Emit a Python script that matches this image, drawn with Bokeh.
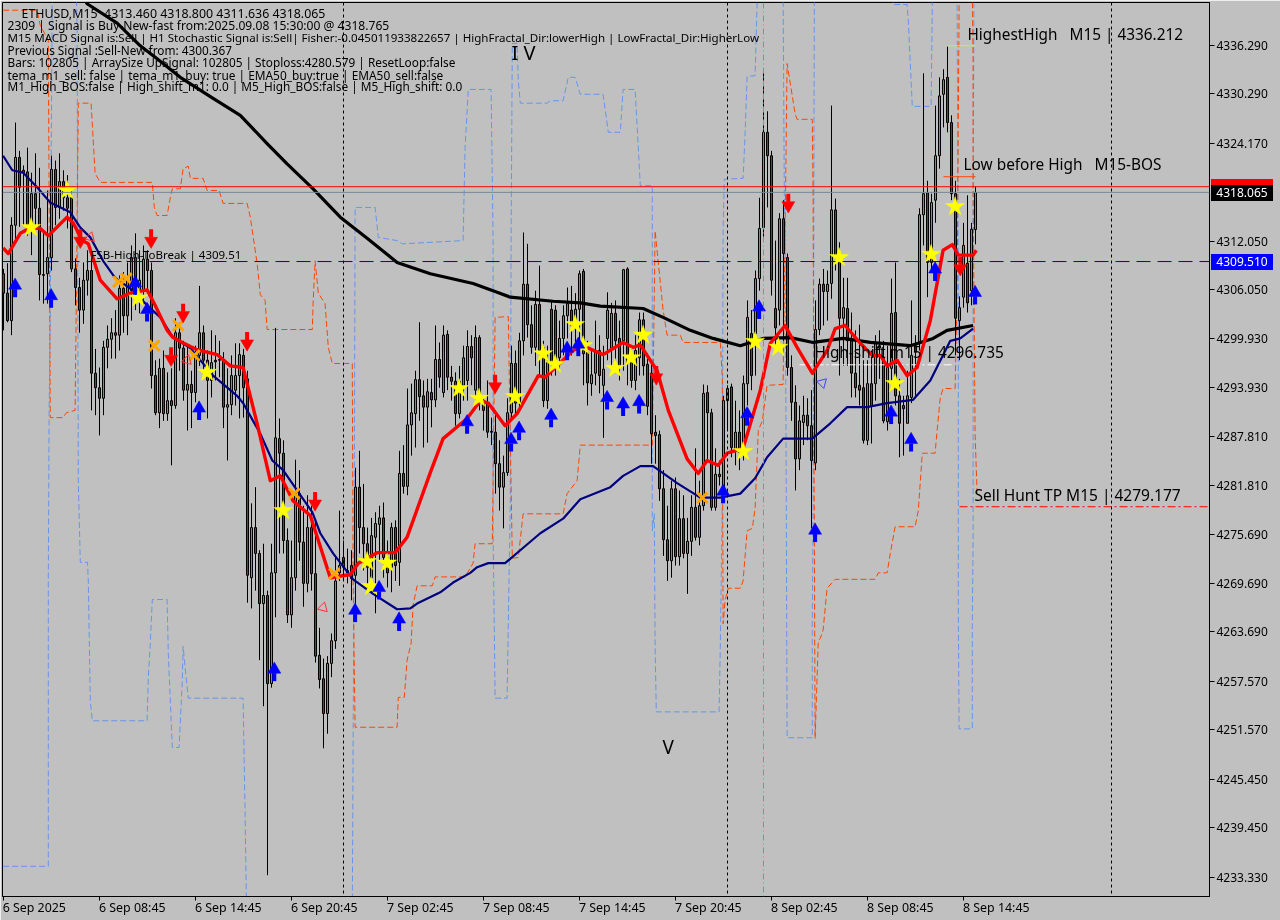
from bokeh.plotting import figure
from bokeh.models import Range1d, LinearAxis, FixedTicker, Span, Label, Div
from bokeh.layouts import column
from bokeh.embed import file_html
from bokeh.resources import INLINE
import math

opens = [4308.0,4305.6,4302.2,4314.0,4322.4,4320.8,4320.6,4313.7,4317.9,4316.1,4307.9,4308.0,4310.0,4320.9,4316.2,4319.4,4317.4,4317.4,4308.6,4306.3,4303.5,4307.2,4308.4,4295.7,4293.9,4292.6,4298.9,4299.9,4300.7,4300.4,
4306.2,4302.8,4305.9,4310.0,4305.9,4305.9,4309.8,4308.4,4295.4,4290.8,4296.3,4290.7,4292.3,4291.7,4300.7,4298.8,4293.6,4294.3,4293.3,4297.9,4300.7,4297.3,4294.8,4297.3,4297.4,4297.3,4291.5,4291.8,4293.6,4295.4,
4297.9,4295.0,4270.4,4276.6,4273.4,4267.2,4268.2,4257.3,4271.0,4287.6,4285.8,4275.0,4265.8,4270.4,4280.8,4274.8,4269.7,4276.6,4270.9,4260.8,4257.9,4253.6,4259.8,4262.6,4271.0,4272.9,4271.0,4271.9,4270.7,4281.6,
4276.6,4274.6,4270.4,4275.4,4277.0,4277.8,4272.9,4271.7,4276.6,4272.3,4283.3,4281.7,4289.3,4290.7,4294.9,4292.9,4291.5,4293.3,4292.4,4297.4,4293.3,4300.5,4295.2,4294.7,4290.7,4294.2,4294.8,4299.0,4293.6,4300.1,
4292.3,4292.0,4288.5,4288.4,4284.5,4281.6,4283.4,4290.8,4296.9,4292.1,4299.7,4306.7,4301.7,4298.9,4304.2,4298.9,4292.3,4303.6,4303.5,4297.6,4300.0,4302.8,4303.5,4301.2,4303.6,4308.3,4298.3,4294.4,4295.7,4298.5,
4294.2,4300.0,4298.8,4303.1,4300.0,4299.7,4308.6,4297.5,4294.8,4297.6,4302.3,4296.8,4295.7,4288.4,4288.1,4281.4,4275.1,4272.5,4281.4,4273.0,4277.7,4273.4,4274.9,4279.1,4275.4,4279.3,4293.3,4290.8,4279.1,4283.2,
4281.6,4292.3,4294.0,4286.1,4288.4,4286.1,4294.4,4300.6,4300.6,4307.4,4313.7,4325.5,4322.6,4303.7,4303.5,4314.8,4310.0,4296.4,4292.1,4285.1,4289.6,4290.5,4289.2,4284.6,4301.1,4306.7,4305.8,4306.8,4315.9,4309.9,
4302.5,4303.7,4299.7,4295.7,4294.2,4293.9,4287.4,4294.4,4294.4,4299.1,4297.5,4289.7,4296.3,4303.2,4292.9,4291.7,4289.5,4292.7,4299.1,4299.4,4315.3,4318.0,4309.4,4317.1,4322.6,4330.2,4332.3,4326.7,4317.9,4302.2,
4305.1,4309.3,4305.9,4313.46]
highs = [4308.6,4309.3,4315.0,4326.7,4323.2,4321.4,4323.6,4320.5,4322.9,4321.1,4313.4,4318.3,4322.6,4322.0,4322.9,4320.8,4320.2,4318.3,4309.9,4307.5,4309.4,4310.9,4310.6,4298.7,4296.4,4299.7,4301.6,4302.5,4303.5,4307.8,
4308.2,4309.4,4311.5,4313.0,4310.9,4311.5,4310.9,4309.4,4297.3,4297.5,4298.5,4295.8,4296.3,4302.5,4302.0,4299.7,4299.1,4296.0,4299.1,4306.5,4301.6,4298.5,4301.0,4300.4,4299.7,4298.3,4296.3,4297.9,4299.4,4299.4,
4298.7,4296.0,4279.6,4281.6,4273.8,4274.6,4268.8,4274.6,4301.3,4290.1,4287.4,4276.5,4275.0,4285.0,4283.7,4279.3,4280.6,4279.3,4277.5,4264.2,4260.4,4260.7,4263.5,4273.1,4278.7,4275.0,4274.0,4273.8,4284.0,4286.1,
4282.0,4276.6,4277.8,4278.5,4279.3,4279.7,4275.0,4277.2,4277.5,4286.1,4286.8,4293.8,4294.4,4296.0,4302.0,4294.8,4295.0,4295.0,4301.6,4299.5,4301.6,4301.0,4296.6,4295.8,4296.6,4299.1,4301.0,4300.4,4301.6,4300.4,
4292.9,4294.8,4290.2,4291.1,4287.4,4285.5,4292.6,4299.1,4298.5,4300.7,4313.1,4311.7,4304.1,4305.9,4309.0,4299.7,4299.1,4304.7,4304.1,4302.2,4304.1,4306.3,4306.5,4305.6,4308.4,4308.6,4299.7,4298.5,4302.2,4300.4,
4299.1,4305.7,4304.4,4304.7,4302.2,4308.6,4308.8,4299.1,4300.4,4303.2,4303.2,4297.5,4297.0,4290.5,4288.6,4283.7,4279.3,4282.4,4282.8,4281.2,4280.6,4277.8,4280.6,4286.4,4282.4,4294.3,4294.2,4291.3,4286.4,4284.9,
4292.9,4294.2,4294.4,4292.3,4291.1,4295.4,4304.7,4303.5,4308.4,4317.4,4333.3,4328.1,4323.2,4312.1,4315.5,4317.1,4310.5,4297.9,4294.2,4291.7,4292.9,4292.6,4293.6,4304.7,4307.4,4308.6,4308.4,4328.8,4317.3,4311.9,
4307.5,4307.5,4303.2,4301.0,4301.7,4297.3,4297.3,4298.5,4300.4,4301.0,4299.7,4299.1,4307.4,4309.4,4295.0,4292.9,4296.0,4304.7,4300.4,4316.1,4332.8,4319.5,4317.9,4328.8,4332.3,4333.3,4336.1,4327.6,4319.5,4305.2,
4314.3,4317.7,4314.3,4318.8]
lows = [4301.0,4302.0,4300.4,4311.9,4313.8,4314.0,4312.7,4310.3,4313.8,4304.7,4304.3,4304.3,4308.4,4314.0,4314.8,4315.8,4313.6,4308.2,4304.1,4300.7,4301.8,4305.3,4291.1,4290.5,4288.0,4290.5,4296.3,4297.5,4297.5,4298.5,
4300.7,4300.4,4302.2,4303.5,4303.1,4304.1,4305.9,4293.8,4290.5,4288.9,4289.8,4289.8,4284.3,4291.3,4296.0,4292.3,4288.6,4288.9,4292.1,4296.6,4296.0,4290.1,4292.7,4294.8,4295.2,4288.9,4284.9,4290.5,4291.7,4290.1,
4290.2,4267.3,4266.6,4268.8,4260.2,4254.5,4233.6,4256.8,4265.5,4273.4,4273.4,4264.8,4264.2,4268.8,4272.5,4266.8,4268.6,4268.8,4259.9,4256.7,4249.3,4251.1,4258.1,4261.6,4270.0,4270.0,4269.7,4267.6,4267.0,4273.4,
4271.3,4268.8,4268.4,4266.0,4272.5,4270.4,4269.2,4268.6,4270.0,4269.4,4280.8,4280.6,4285.5,4286.5,4289.8,4286.5,4287.1,4289.0,4291.5,4293.9,4292.7,4293.6,4292.3,4289.2,4290.1,4292.3,4292.3,4294.2,4292.3,4291.1,
4288.6,4287.7,4286.8,4280.8,4278.7,4276.5,4283.0,4289.8,4290.7,4291.1,4297.9,4300.1,4298.1,4296.6,4295.4,4291.5,4291.3,4295.4,4295.4,4296.0,4297.9,4300.0,4297.9,4298.5,4299.1,4294.2,4291.7,4292.9,4294.2,4293.2,
4287.7,4297.3,4296.6,4296.3,4294.8,4296.0,4294.2,4293.9,4293.6,4295.4,4295.4,4290.5,4284.5,4284.5,4279.9,4273.1,4270.0,4270.4,4271.9,4271.9,4272.8,4268.4,4273.1,4275.0,4274.4,4278.7,4284.9,4278.7,4278.7,4281.8,
4281.2,4288.6,4285.3,4284.3,4283.7,4284.9,4291.7,4293.6,4295.4,4305.9,4312.1,4316.2,4305.3,4299.1,4301.6,4299.7,4295.4,4289.8,4281.2,4283.7,4286.8,4287.4,4276.5,4283.7,4300.4,4301.6,4302.2,4304.9,4308.4,4295.4,
4296.6,4296.6,4292.7,4292.7,4291.7,4287.0,4286.8,4287.0,4292.3,4295.0,4289.5,4288.6,4294.8,4291.7,4285.3,4285.5,4289.5,4292.0,4292.9,4298.5,4311.5,4305.1,4308.4,4314.3,4321.0,4326.1,4325.5,4317.1,4297.9,4297.3,
4303.8,4303.2,4304.1,4311.636]
closes = [4305.6,4302.2,4314.0,4322.4,4318.7,4320.5,4314.0,4317.9,4316.1,4307.9,4307.8,4310.0,4320.9,4316.2,4319.4,4317.4,4316.1,4308.6,4306.3,4303.5,4307.2,4308.4,4295.7,4293.9,4292.6,4298.9,4299.9,4300.7,4300.4,4306.2,
4302.8,4307.2,4310.0,4305.9,4307.2,4309.8,4308.4,4295.4,4290.8,4296.3,4290.7,4292.3,4291.7,4300.7,4298.8,4293.6,4294.3,4293.3,4297.9,4300.7,4297.3,4294.8,4297.0,4297.1,4297.3,4291.5,4291.8,4295.4,4295.4,4298.0,
4293.9,4270.7,4276.6,4273.4,4267.2,4268.2,4257.3,4271.0,4287.7,4285.8,4275.0,4265.8,4270.4,4281.0,4274.8,4269.7,4276.6,4270.9,4260.7,4257.8,4253.6,4259.8,4262.6,4270.0,4271.9,4271.7,4271.3,4270.3,4281.6,4276.6,
4274.6,4271.7,4275.6,4277.1,4277.8,4272.9,4271.0,4276.6,4271.9,4283.3,4281.7,4289.3,4290.8,4294.9,4292.8,4291.5,4293.4,4292.4,4297.4,4295.2,4300.4,4295.2,4294.7,4290.7,4294.7,4297.6,4299.0,4297.6,4300.1,4292.3,
4291.1,4288.4,4288.4,4284.5,4281.6,4283.4,4290.8,4296.9,4292.0,4299.7,4306.7,4301.7,4298.9,4304.2,4298.5,4292.3,4297.0,4297.0,4296.4,4300.0,4302.8,4304.3,4301.6,4303.6,4308.0,4298.1,4294.5,4295.5,4298.5,4295.4,
4296.2,4303.5,4303.1,4299.7,4296.6,4308.5,4296.9,4294.8,4298.5,4302.3,4296.6,4291.6,4288.2,4288.0,4281.4,4275.1,4272.5,4281.4,4273.0,4277.7,4273.4,4274.9,4279.1,4275.4,4279.3,4293.2,4290.8,4279.1,4283.2,4282.9,
4292.3,4293.8,4286.5,4288.4,4285.9,4294.4,4302.6,4295.4,4307.4,4313.6,4325.5,4322.6,4307.2,4301.3,4314.8,4310.5,4296.4,4292.1,4285.1,4289.8,4290.5,4289.2,4284.9,4301.1,4306.7,4305.8,4306.7,4315.9,4310.3,4302.5,
4303.8,4299.7,4295.7,4293.9,4293.6,4287.4,4294.4,4291.7,4299.5,4298.8,4289.8,4296.4,4303.1,4292.9,4289.5,4291.3,4292.9,4297.9,4298.3,4315.3,4317.9,4309.4,4316.8,4322.6,4330.0,4332.0,4326.7,4317.9,4302.5,4303.8,
4311.5,4304.4,4313.5,4318.065]
bars = list(range(len(closes)))

ema200_x = [19.0,20.9,28.4,34.2,38.4,44.2,52.4,59.2,65.9,70.9,77.4,84.2,90.9,98.4,106.7,117.4,123.4,126.7,137.4,144.2,149.2,159.9,164.9,171.7,177.4,184.2,189.9,196.7,202.4,209.9,216.7,226.7,232.4,235.9,242.4]
ema200_y = [4343.0,4341.4,4339.0,4336.2,4334.6,4332.3,4329.7,4327.6,4324.1,4321.6,4318.5,4315.0,4312.4,4309.4,4308.0,4306.8,4305.7,4305.1,4304.6,4304.4,4304.0,4303.7,4302.6,4301.0,4300.0,4299.1,4300.0,4300.1,4299.5,4300.0,4299.5,4299.1,4300.0,4301.0,4301.6]

ema50_x = [-0.1,2.2,4.9,8.4,11.7,16.7,19.2,21.7,24.9,27.9,32.4,35.9,39.2,42.4,46.7,52.4,58.4,59.9,64.2,67.2,69.9,73.4,77.2,79.2,82.4,87.4,92.4,98.4,101.7,103.4,109.2,112.4,116.7,118.4,121.2,125.4,129.2,134.2,139.9,144.2,151.7,154.9,159.2,162.4,168.4,174.2,179.2,184.2,187.9,190.9,194.9,202.2,206.7,210.9,215.9,220.9,227.4,231.7,236.7,239.2,242.4]
ema50_y = [4322.6,4320.8,4320.5,4318.7,4316.8,4315.6,4313.7,4312.5,4309.6,4307.5,4305.9,4304.1,4302.6,4300.1,4298.8,4295.4,4292.9,4292.0,4288.2,4284.9,4283.7,4281.2,4278.5,4275.9,4273.4,4270.2,4268.4,4266.5,4266.6,4267.2,4268.6,4269.8,4271.0,4271.7,4272.2,4272.2,4273.8,4275.9,4277.7,4280.1,4281.6,4283.0,4284.2,4284.2,4282.1,4280.3,4280.3,4280.8,4282.7,4285.3,4287.6,4287.6,4289.5,4291.5,4291.5,4292.0,4292.4,4294.8,4299.7,4300.0,4301.2]

tema_x = [-0.1,1.2,4.2,6.7,9.2,11.2,15.9,17.4,19.7,21.2,23.4,24.2,28.4,31.7,35.9,37.9,40.9,42.4,44.7,48.4,53.4,56.7,59.9,63.4,66.7,69.2,72.4,76.7,81.7,86.7,88.7,93.4,97.9,100.9,106.7,109.9,115.9,119.2,121.2,125.4,128.4,133.7,135.4,142.4,144.9,149.9,154.9,157.4,159.2,163.4,166.2,170.9,173.7,175.9,178.7,180.9,184.9,189.2,191.7,195.4,198.4,202.2,205.9,207.9,210.4,214.2,217.2,219.2,220.9,223.4,225.9,228.4,231.7,234.9,237.2,238.7,242.4,243.2]
tema_y = [4311.2,4310.5,4313.0,4313.7,4313.6,4312.7,4315.0,4314.3,4312.1,4311.7,4308.4,4307.2,4304.9,4305.6,4306.0,4304.1,4301.0,4300.1,4299.5,4298.6,4298.0,4296.6,4296.4,4289.5,4282.4,4283.0,4279.9,4278.1,4270.4,4270.8,4272.2,4273.5,4273.5,4275.4,4283.4,4287.6,4290.1,4292.3,4292.0,4289.2,4290.7,4295.4,4295.2,4298.5,4299.1,4298.0,4299.5,4298.9,4299.2,4296.0,4291.1,4285.1,4283.3,4284.9,4284.3,4285.8,4286.4,4293.6,4299.4,4301.6,4298.9,4295.7,4298.5,4301.2,4301.6,4299.4,4297.9,4297.9,4296.6,4297.3,4295.4,4296.4,4302.2,4310.9,4311.6,4310.3,4310.3,4310.9]

band_orange_x = [-0.1,8.4,9.2,11.2,11.7,11.9,14.9,15.7,17.9,18.2,18.7,18.9,21.9,22.9,24.2,37.2,37.7,38.4,40.9,41.7,42.2,44.2,44.9,46.2,46.7,49.9,50.9,53.9,54.9,60.9,61.7,63.4,64.2,65.4,65.9,77.2,77.4,77.9,78.7,80.4,81.2,82.2,87.2,87.4,87.9,98.4,98.7,100.2,100.9,101.9,102.4,103.4,107.2,107.9,115.4,117.4,117.9,122.2,122.9,126.2,127.2,128.7,129.9,139.9,140.9,143.4,144.2,162.2,162.9,164.9,165.9,169.2,169.9,179.2,179.7,179.9,180.4,181.2,184.2,184.9,185.9,187.2,187.9,188.7,189.7,190.9,194.9,195.4,195.9,197.9,198.4,202.2,202.4,202.9,203.7,204.2,204.9,205.9,207.9,217.9,218.7,220.9,221.7,222.9,227.9,228.7,229.7,232.9,233.4,234.2,234.9,237.9,238.4,238.9,238.9,242.2,242.4,242.4,242.9,243.4]
band_orange_y = [4340.6,4340.6,4338.7,4336.9,4290.2,4290.2,4290.2,4290.8,4291.1,4304.7,4329.1,4329.1,4329.1,4320.4,4319.3,4319.3,4316.2,4315.2,4315.2,4317.4,4318.5,4318.5,4321.0,4321.3,4319.8,4319.8,4318.3,4318.3,4316.7,4316.7,4315.0,4309.3,4305.4,4304.7,4301.1,4301.1,4304.4,4309.6,4305.6,4304.3,4298.9,4296.9,4296.9,4270.4,4251.9,4251.9,4255.6,4255.6,4260.2,4262.3,4267.0,4269.4,4269.4,4270.5,4270.5,4272.2,4274.6,4274.6,4302.6,4302.7,4272.8,4272.9,4278.3,4278.3,4280.8,4282.4,4286.8,4286.8,4313.3,4303.5,4300.4,4300.4,4299.5,4299.5,4295.2,4264.7,4267.6,4269.1,4269.1,4270.0,4276.2,4276.5,4279.0,4288.6,4289.8,4294.2,4294.3,4313.3,4334.0,4327.8,4327.1,4327.1,4317.4,4250.5,4262.6,4262.9,4263.9,4269.1,4270.2,4270.2,4271.0,4271.0,4273.4,4276.7,4276.7,4278.7,4285.8,4285.8,4288.6,4292.7,4293.8,4293.8,4305.9,4341.2,4343.0,4343.0,4334.4,4318.7,4288.2,4280.8]

band_blue_x = [-0.1,11.2,11.2,11.2,11.4,11.7,11.9,12.2,18.2,18.4,18.7,19.2,21.0,21.2,21.7,22.2,35.9,36.2,36.7,37.2,40.9,41.2,42.2,43.9,44.7,44.9,45.4,46.2,59.9,60.4,60.7,60.9,87.2,87.4,87.7,87.9,92.9,93.7,98.4,99.7,114.9,115.4,116.2,121.9,122.4,122.4,122.9,125.9,126.7,126.9,127.2,128.4,128.7,129.2,135.9,136.7,139.9,141.2,142.9,144.2,149.9,151.2,154.2,154.9,157.9,158.7,159.2,162.2,162.2,162.7,162.9,163.2,178.9,179.2,179.7,179.9,180.2,184.9,185.4,185.9,187.9,188.4,188.4,194.9,195.2,195.4,195.7,195.9,202.2,202.2,202.4,202.7,202.7,222.2,222.4,225.9,226.2,227.2,231.9,232.2,232.2,238.4,238.4,238.7,238.7,238.9,242.2,242.2,242.4,242.4,242.6]
band_blue_y = [4234.7,4234.7,4249.4,4270.0,4290.7,4303.1,4321.1,4343.0,4343.0,4338.1,4282.4,4272.3,4272.3,4270.0,4255.2,4252.7,4252.7,4258.1,4262.3,4267.7,4267.7,4261.0,4249.4,4249.4,4257.7,4261.9,4259.3,4255.5,4255.5,4241.2,4231.3,4229.2,4229.2,4249.4,4279.9,4316.2,4316.2,4312.5,4312.1,4311.7,4312.1,4323.6,4330.8,4330.8,4312.1,4276.2,4255.5,4255.5,4279.9,4312.1,4336.5,4336.5,4331.9,4329.1,4329.1,4329.4,4329.4,4332.3,4332.3,4330.2,4330.2,4325.5,4325.5,4330.8,4330.8,4323.6,4318.9,4318.9,4276.2,4278.3,4262.0,4253.8,4253.8,4261.8,4279.9,4313.4,4319.7,4319.8,4325.3,4332.4,4332.5,4341.4,4343.0,4343.0,4317.9,4313.3,4279.9,4250.6,4250.6,4264.7,4279.9,4341.4,4343.0,4343.0,4341.3,4341.3,4339.3,4328.7,4328.7,4341.2,4343.0,4343.0,4341.2,4305.9,4266.7,4251.7,4251.7,4264.9,4275.0,4317.1,4341.4]

arrow_up_x = [2.9,11.9,32.9,35.9,48.9,67.7,87.9,93.9,98.9,115.9,126.9,128.9,136.9,140.9,143.7,150.9,154.9,158.9,179.9,185.9,188.9,202.9,221.9,226.9,232.9,242.9]
arrow_up_y = [4306.2,4304.9,4306.5,4303.2,4291.0,4258.7,4266.0,4268.8,4264.9,4289.3,4287.1,4288.5,4290.1,4298.4,4298.9,4292.3,4291.5,4291.8,4280.7,4290.3,4303.5,4275.9,4290.5,4287.1,4308.2,4305.3]
arrow_dn_x = [19.2,36.9,44.9,41.9,60.9,77.9,122.9,163.2,196.2,239.2]
arrow_dn_y = [4312.4,4312.4,4303.2,4297.8,4299.7,4279.9,4294.4,4295.5,4316.8,4309.0]
star_x = [15.9,6.9,33.7,50.9,69.9,90.9,95.9,91.9,113.9,118.9,127.9,134.9,137.9,142.9,144.9,152.9,156.9,159.9,184.9,187.9,193.7,208.9,231.9,237.9,222.9]
star_y = [4318.3,4313.7,4305.0,4295.8,4278.7,4272.4,4272.2,4269.3,4293.8,4292.6,4292.8,4298.1,4296.8,4301.7,4299.1,4296.3,4297.6,4300.4,4286.0,4299.6,4298.9,4310.0,4310.4,4316.3,4294.4]
cross_x = [28.7,30.7,37.7,43.7,47.7,72.7,82.7,174.7]
cross_y = [4307.0,4307.4,4299.1,4301.6,4297.9,4280.8,4270.9,4280.3]
hollow_red_x = [21.7,45.9,79.9]
hollow_red_y = [4312.5,4297.3,4266.7]
hollow_blue_x = [204.7]
hollow_blue_y = [4294.5]

price_ticks = [4336.29,4330.29,4324.17,4312.05,4306.05,4299.93,4293.93,4287.81,4281.81,4275.69,4269.69,4263.69,4257.57,4251.57,4245.45,4239.45,4233.33]
time_ticks = [0,24,48,72,96,120,144,168,192,216,240]
time_labels = ["6 Sep 2025","6 Sep 08:45","6 Sep 14:45","6 Sep 20:45","7 Sep 02:45","7 Sep 08:45","7 Sep 14:45","7 Sep 20:45","8 Sep 02:45","8 Sep 08:45","8 Sep 14:45"]
header_lines = ["ETHUSD,M15\u00a0 4313.460 4318.800 4311.636 4318.065",
"2309 | Signal is Buy-New-fast from:2025.09.08 15:30:00 @ 4318.765",
"M15 MACD Signal is:Sell | H1 Stochastic Signal is:Sell| Fisher:-0.045011933822657 | HighFractal_Dir:lowerHigh | LowFractal_Dir:HigherLow",
"Previous Signal :Sell-New from: 4300.367",
"Bars: 102805 | ArraySize UpSignal: 102805 | Stoploss:4280.579 | ResetLoop:false",
"tema_m1_sell: false | tema_m1_buy: true | EMA50_buy:true | EMA50_sell:false",
"M1_High_BOS:false | High_shift_m1: 0.0 | M5_High_BOS:false | M5_High_shift: 0.0"]
sep_bars = [85,181,277]
FONT = "Noto Sans"
BG = "#c0c0c0"

# pixel helpers for annotations only (placement of labels)
def bx(px):
    return (px - 3.0) / 4.0
def by(py):
    return 4341.8 - 0.1237 * py

p = figure(width=1280, height=920, output_backend="svg", toolbar_location=None,
           x_range=Range1d(bx(2), bx(1209)), y_range=Range1d(by(896), by(2)),
           min_border_left=2, min_border_right=71, min_border_top=2, min_border_bottom=24,
           background_fill_color=BG, border_fill_color=BG, outline_line_color="black",
           x_axis_location=None, y_axis_location=None)
p.styles = {"position": "fixed", "left": "0px", "top": "0px"}
p.grid.visible = False

yaxis = LinearAxis(ticker=FixedTicker(ticks=price_ticks),
                   major_label_overrides={t: f"{t:.3f}" for t in price_ticks},
                   major_tick_out=5, major_tick_in=0, minor_tick_out=0, minor_tick_in=0,
                   major_label_standoff=2, major_label_text_font=FONT,
                   major_label_text_font_size="12px", major_label_text_color="black",
                   axis_line_color="black", major_tick_line_color="black")
p.add_layout(yaxis, "right")
xaxis = LinearAxis(ticker=FixedTicker(ticks=time_ticks),
                   major_label_overrides={t: "" for t in time_ticks},
                   major_label_standoff=0, major_label_text_font_size="1px",
                   major_tick_out=4, major_tick_in=0, minor_tick_out=0, minor_tick_in=0,
                   axis_line_color="black", major_tick_line_color="black")
p.add_layout(xaxis, "below")
label_ticks = [t + (7.7 if i == 0 else 8.2) for i, t in enumerate(time_ticks)]
xaxis2 = LinearAxis(ticker=FixedTicker(ticks=label_ticks),
                    major_label_overrides=dict(zip(label_ticks, time_labels)),
                    major_label_standoff=-2, major_tick_out=0, major_tick_in=0,
                    minor_tick_out=0, minor_tick_in=0, axis_line_color=None,
                    major_tick_line_color=None, major_label_text_font=FONT,
                    major_label_text_font_size="12.4px", major_label_text_color="black")
p.add_layout(xaxis2, "below")

# bands
p.line(band_blue_x, band_blue_y, line_color="#6495ed", line_width=1, line_dash="6 3")
p.line(band_orange_x, band_orange_y, line_color="#ff4500", line_width=1, line_dash="6 3")

# verticals
for b in sep_bars:
    p.add_layout(Span(location=b, dimension="height", line_color="black", line_width=1, line_dash="3 3"))
p.add_layout(Span(location=bx(763), dimension="height", line_color="#e9608c", line_width=1, line_dash="6 3 1 3"))

# horizontals
p.add_layout(Span(location=4318.765, dimension="width", line_color="#ff0000", line_width=1))
p.add_layout(Span(location=4318.065, dimension="width", line_color="#778899", line_width=1))
p.add_layout(Span(location=4309.51, dimension="width", line_color="#0000cd", line_width=1, line_dash="14 7"))

# candles
p.segment(bars, highs, bars, lows, line_color="black", line_width=1)
colors = ["#3cb371" if c >= o else "#b22040" for o, c in zip(opens, closes)]
tops = [max(o, c) for o, c in zip(opens, closes)]
bots = [min(o, c) for o, c in zip(opens, closes)]
p.vbar(x=bars, top=tops, bottom=bots, width=0.5, fill_color=colors, line_color="black", line_width=1)

# level segments
p.line([bx(799), bx(952)], [4296.735, 4296.735], line_color="white", line_width=1, line_dash="8 3 2 3")
p.line([bx(959), bx(1209)], [4279.177, 4279.177], line_color="#ff0000", line_width=1, line_dash="8 3 2 3")
p.line([bx(947), bx(975)], [4336.212, 4336.212], line_color="#adff2f", line_width=1)
p.line([bx(943), bx(975)], [4320.0, 4320.0], line_color="#ff4500", line_width=1)

# indicator lines
p.line(ema200_x, ema200_y, line_color="black", line_width=3.2, line_join="round")
p.line(ema50_x, ema50_y, line_color="#000080", line_width=2.2, line_join="round")
p.line(tema_x, tema_y, line_color="#ff0000", line_width=3.4, line_join="round")

# markers
p.scatter(cross_x, cross_y, marker="x", size=15, line_color="#ffa500", line_width=3)
p.scatter(star_x, star_y, marker="star", size=20, fill_color="#ffff00", line_color="#ffff00", line_width=0.5)
p.scatter(arrow_up_x, [y + 0.35 for y in arrow_up_y], marker="triangle", size=13, fill_color="#0000ff", line_color="#0000ff", line_width=0.5)
p.rect(arrow_up_x, [y - 0.6 for y in arrow_up_y], width=4, width_units="screen", height=8, height_units="screen", fill_color="#0000ff", line_color=None)
p.scatter(arrow_dn_x, [y - 0.35 for y in arrow_dn_y], marker="inverted_triangle", size=13, fill_color="#ff0000", line_color="#ff0000", line_width=0.5)
p.rect(arrow_dn_x, [y + 0.6 for y in arrow_dn_y], width=4, width_units="screen", height=8, height_units="screen", fill_color="#ff0000", line_color=None)
p.scatter(hollow_red_x, hollow_red_y, marker="triangle", size=10, angle=-135*math.pi/180, fill_color=None, line_color="#ff3030", line_width=1)
p.scatter(hollow_blue_x, hollow_blue_y, marker="triangle", size=10, angle=-45*math.pi/180, fill_color=None, line_color="#4040ff", line_width=1)

def label(px, py, text, size=12, color="black", **kw):
    p.add_layout(Label(x=bx(px), y=by(py), text=text, text_font=FONT, text_font_size=f"{size}px",
                       text_color=color, text_baseline="middle", **kw))

header_sizes = [12.4, 12.1, 11.57, 11.8, 11.8, 11.87, 11.8]
for i, (t, py, s) in enumerate(zip(header_lines, [13, 25, 37, 49.5, 61.5, 74, 85.5], header_sizes)):
    label(21 if i == 0 else 7, py, t, size=s)

label(967, 33, "HighestHigh\u00a0\u00a0 M15 | 4336.212", size=15.35)
label(963, 164, "Low before High\u00a0\u00a0 M15-BOS", size=15.4)
label(814, 352, "High-shift m15 | 4296.735", size=15.4)
label(974, 494, "Sell Hunt TP M15 | 4279.177", size=15.5)
label(90, 254, "FSB-High-ToBreak | 4309.51", size=11.5)
label(511, 52, "I V", size=20)
label(662, 746, "V", size=19)

def tag(top, height, text, bg):
    return Div(text=text, width=62, height=height,
               styles={"position": "fixed", "left": "1211px", "top": f"{top}px", "background-color": bg,
                       "color": "white", "font-family": "Noto Sans", "font-size": "12px",
                       "line-height": f"{height}px", "text-align": "center", "overflow": "visible", "margin": "0"})

tags = [tag(179, 8, "", "#ff0000"),
        tag(185, 16, "4318.065", "black"),
        tag(254, 16, "4309.510", "#0000ff")]

open("out.html", "w").write(file_html(column(p, *tags), INLINE))
